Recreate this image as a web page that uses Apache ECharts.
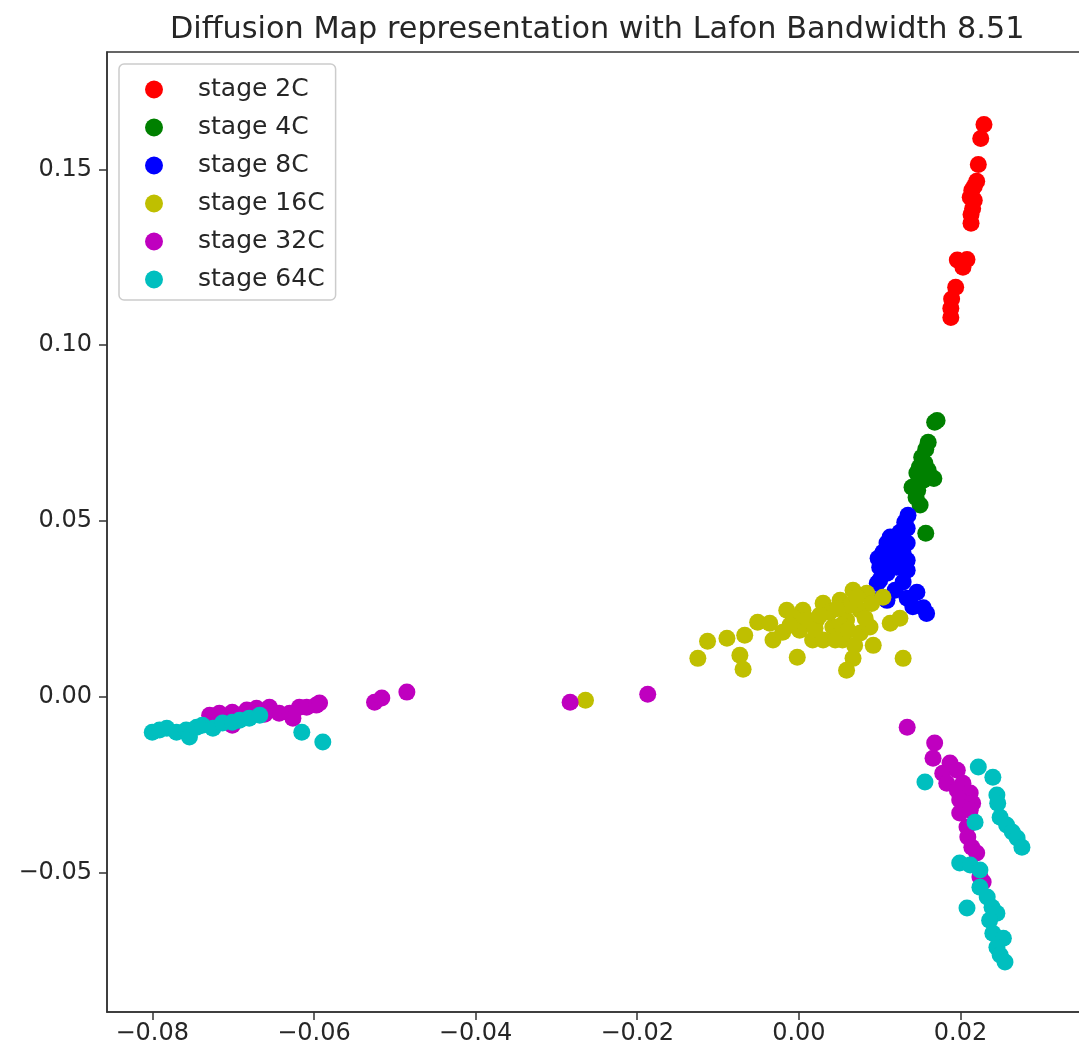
<!DOCTYPE html>
<html>
<head>
<meta charset="utf-8">
<title>Diffusion Map</title>
<script src="https://cdn.jsdelivr.net/npm/echarts@6/dist/echarts.min.js"></script>
<style>
  html, body { margin: 0; padding: 0; background: #fff; }
  #chart { width: 1079px; height: 1055px; }
</style>
</head>
<body>
<div id="chart"></div>
<script>
// Diffusion-map coordinates (first two components) per developmental stage
const stageNames = ['stage 2C', 'stage 4C', 'stage 8C', 'stage 16C', 'stage 32C', 'stage 64C'];
const stageColors = ['#ff0000', '#008000', '#0000ff', '#bfbf00', '#bf00bf', '#00bfbf'];

const stage2C = [
  [0.0229, 0.1628], [0.0225, 0.1588], [0.0222, 0.1514], [0.0220, 0.1466], [0.0217, 0.1452],
  [0.0214, 0.1441], [0.0212, 0.1421], [0.0217, 0.1412], [0.0215, 0.1389], [0.0213, 0.1372],
  [0.0213, 0.1347], [0.0196, 0.1242], [0.0202, 0.1236], [0.0208, 0.1244], [0.0203, 0.1222],
  [0.0194, 0.1165], [0.0189, 0.1131], [0.0188, 0.1105], [0.0188, 0.1079]
];

const stage4C = [
  [0.0171, 0.0786], [0.0168, 0.0781], [0.0160, 0.0724], [0.0157, 0.0704], [0.0152, 0.0681],
  [0.0156, 0.0664], [0.0149, 0.0653], [0.0160, 0.0644], [0.0146, 0.0636], [0.0167, 0.0621],
  [0.0154, 0.0616], [0.0140, 0.0596], [0.0147, 0.0587], [0.0145, 0.0567], [0.0150, 0.0545],
  [0.0157, 0.0465]
];

const stage8C = [
  [0.0135, 0.0516], [0.0131, 0.0496], [0.0134, 0.0479], [0.0125, 0.0468], [0.0113, 0.0454],
  [0.0128, 0.0451], [0.0109, 0.0437], [0.0134, 0.0437], [0.0119, 0.0425], [0.0104, 0.0411],
  [0.0129, 0.0408], [0.0098, 0.0394], [0.0113, 0.0388], [0.0134, 0.0388], [0.0100, 0.0368],
  [0.0121, 0.0368], [0.0109, 0.0351], [0.0134, 0.0360], [0.0100, 0.0331], [0.0129, 0.0326],
  [0.0119, 0.0303], [0.0146, 0.0297], [0.0109, 0.0274], [0.0134, 0.0280], [0.0141, 0.0256],
  [0.0154, 0.0253], [0.0158, 0.0237], [0.0097, 0.0323], [0.0103, 0.0283]
];

const stage16C = [
  [-0.0125, 0.0109], [-0.0113, 0.0158], [-0.0089, 0.0166], [-0.0073, 0.0118], [-0.0069, 0.0078],
  [-0.0067, 0.0175], [-0.0051, 0.0212], [-0.0032, 0.0161], [-0.0015, 0.0246], [0.0005, 0.0246],
  [-0.0002, 0.0112], [-0.0020, 0.0183], [0.0001, 0.0189], [0.0017, 0.0161], [0.0030, 0.0266],
  [0.0030, 0.0161], [0.0042, 0.0198], [0.0051, 0.0274], [0.0059, 0.0218], [0.0067, 0.0303],
  [0.0076, 0.0246], [0.0076, 0.0181], [0.0067, 0.0109], [0.0059, 0.0075], [0.0084, 0.0294],
  [0.0092, 0.0146], [0.0104, 0.0283], [0.0113, 0.0209], [0.0125, 0.0223], [0.0129, 0.0109],
  [0.0088, 0.0198], [0.0054, 0.0161], [0.0022, 0.0218], [-0.0007, 0.0226], [-0.0036, 0.0209],
  [0.0038, 0.0240], [0.0020, 0.0195], [0.0063, 0.0260], [0.0045, 0.0161], [0.0011, 0.0218],
  [-0.0011, 0.0203], [0.0082, 0.0223], [0.0053, 0.0204], [0.0069, 0.0146], [0.0072, 0.0283],
  [0.0047, 0.0250], [0.0026, 0.0232], [0.0090, 0.0265], [0.0061, 0.0189], [-0.0264, -0.0010]
];

const stage32C = [
  [-0.0729, -0.0053], [-0.0717, -0.0047], [-0.0701, -0.0044], [-0.0683, -0.0038], [-0.0671, -0.0033],
  [-0.0655, -0.0030], [-0.0643, -0.0047], [-0.0630, -0.0047], [-0.0626, -0.0061], [-0.0618, -0.0030],
  [-0.0609, -0.0030], [-0.0597, -0.0024], [-0.0593, -0.0018], [-0.0701, -0.0081], [-0.0692, -0.0061],
  [-0.0661, -0.0050],
  [-0.0525, -0.0016], [-0.0516, -0.0004], [-0.0485, 0.0013], [-0.0283, -0.0016], [-0.0187, 0.0007],
  [0.0134, -0.0087], [0.0168, -0.0132], [0.0166, -0.0175], [0.0187, -0.0189], [0.0178, -0.0218],
  [0.0196, -0.0209], [0.0183, -0.0246], [0.0203, -0.0246], [0.0196, -0.0266], [0.0212, -0.0274],
  [0.0199, -0.0294], [0.0215, -0.0303], [0.0199, -0.0331], [0.0212, -0.0323], [0.0208, -0.0371],
  [0.0209, -0.0399], [0.0214, -0.0428], [0.0220, -0.0445], [0.0224, -0.0513], [0.0228, -0.0527]
];

const stage64C = [
  [-0.0800, -0.0101], [-0.0791, -0.0095], [-0.0782, -0.0090], [-0.0770, -0.0101], [-0.0758, -0.0095],
  [-0.0754, -0.0115], [-0.0745, -0.0087], [-0.0738, -0.0081], [-0.0725, -0.0090], [-0.0713, -0.0075],
  [-0.0701, -0.0073], [-0.0692, -0.0067], [-0.0680, -0.0061], [-0.0667, -0.0053], [-0.0615, -0.0101],
  [-0.0589, -0.0129],
  [0.0156, -0.0243], [0.0222, -0.0200], [0.0240, -0.0229], [0.0245, -0.0280], [0.0246, -0.0303],
  [0.0249, -0.0343], [0.0257, -0.0365], [0.0264, -0.0385], [0.0270, -0.0402], [0.0276, -0.0428],
  [0.0218, -0.0357], [0.0199, -0.0473], [0.0212, -0.0479], [0.0224, -0.0493], [0.0224, -0.0542],
  [0.0233, -0.0570], [0.0239, -0.0599], [0.0208, -0.0601], [0.0245, -0.0616], [0.0236, -0.0636],
  [0.0240, -0.0673], [0.0253, -0.0687], [0.0245, -0.0713], [0.0249, -0.0735], [0.0255, -0.0755]
];

const stageData = [stage2C, stage4C, stage8C, stage16C, stage32C, stage64C];

const FONT = 'DejaVu Sans';
const INK = '#262626';
const SPINE = '#333333';

function tickLabel(v) {
  const s = Math.abs(v).toFixed(2);
  return (v < -1e-9 ? '\u2212' : '') + s;
}

const chart = echarts.init(document.getElementById('chart'), null, { renderer: 'canvas' });

chart.setOption({
  backgroundColor: '#ffffff',
  animation: false,
  title: {
    text: 'Diffusion Map representation with Lafon Bandwidth 8.51',
    left: 165,
    top: 9,
    textStyle: { fontFamily: FONT, fontSize: 30.3, fontWeight: 'normal', color: INK, lineHeight: 32 }
  },
  legend: {
    orient: 'vertical',
    left: 119,
    top: 64,
    padding: [13, 11, 8, 26],
    itemWidth: 18,
    itemHeight: 18,
    itemGap: 13,
    icon: 'circle',
    backgroundColor: 'rgba(255,255,255,0.8)',
    borderColor: '#cccccc',
    borderWidth: 1.5,
    borderRadius: 5,
    data: stageNames,
    textStyle: { fontFamily: FONT, fontSize: 25, color: INK, lineHeight: 24, padding: [0, 0, 0, 30] }
  },
  grid: {
    left: 107,
    top: 52,
    width: 978,
    bottom: 43,
    show: true,
    borderColor: SPINE,
    borderWidth: 1.5,
    containLabel: false,
    outerBoundsMode: 'none'
  },
  xAxis: {
    type: 'value',
    min: -0.0856,
    max: 0.0354,
    minInterval: 0.02,
    maxInterval: 0.02,
    splitLine: { show: false },
    axisLine: { show: true, onZero: false, lineStyle: { color: SPINE, width: 1.5 } },
    axisTick: { show: true, length: 8, lineStyle: { color: SPINE, width: 1.5 } },
    axisLabel: {
      showMinLabel: false, showMaxLabel: false,
      fontFamily: FONT, fontSize: 24, color: INK, margin: 10,
      formatter: tickLabel
    }
  },
  yAxis: {
    type: 'value',
    min: -0.0897,
    max: 0.1834,
    minInterval: 0.05,
    maxInterval: 0.05,
    splitLine: { show: false },
    axisLine: { show: true, onZero: false, lineStyle: { color: SPINE, width: 1.5 } },
    axisTick: { show: true, length: 8, lineStyle: { color: SPINE, width: 1.5 } },
    axisLabel: {
      showMinLabel: false, showMaxLabel: false,
      fontFamily: FONT, fontSize: 24, color: INK, margin: 15,
      formatter: tickLabel
    }
  },
  series: stageNames.map((name, i) => ({
    name: name,
    type: 'scatter',
    data: stageData[i],
    symbol: 'circle',
    symbolSize: 17,
    itemStyle: { color: stageColors[i], opacity: 1 },
    emphasis: { disabled: true }
  }))
});
</script>
</body>
</html>
